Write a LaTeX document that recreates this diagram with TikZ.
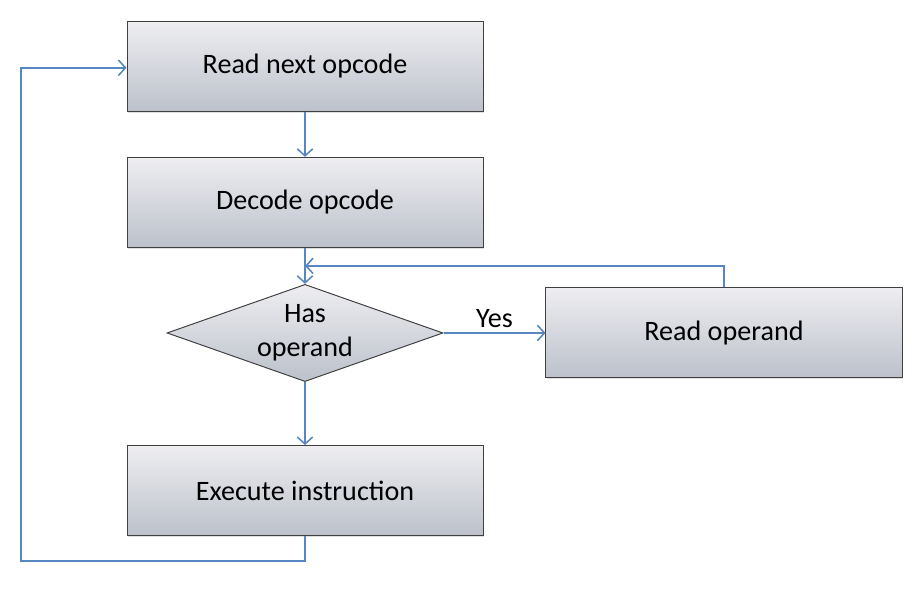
\documentclass[tikz,border=0pt]{standalone}
\usepackage{fontspec}
\setmainfont{Carlito}
\usetikzlibrary{positioning,shapes.geometric,arrows.meta,calc,shadows}

\definecolor{flowblue}{RGB}{88,134,194}
\definecolor{boxtop}{RGB}{238,238,241}
\definecolor{boxbottom}{RGB}{188,193,203}

\begin{document}
\begin{tikzpicture}[
    font=\fontsize{20}{24}\selectfont,
    stepbox/.style={draw=black!75, line width=0.7pt, top color=boxtop, bottom color=boxbottom,
      minimum width=8.9cm, minimum height=2.25cm, drop shadow={shadow xshift=0.6pt, shadow yshift=-1pt, opacity=0.25}},
    decision/.style={diamond, draw=black!75, line width=0.7pt, top color=boxtop, bottom color=boxbottom,
      minimum width=6.9cm, minimum height=2.43cm, inner sep=0pt},
    flow/.style={draw=flowblue, line width=1.1pt, -{Straight Barb[length=5pt,width=11pt]}}
  ]
    \useasboundingbox (0,0) rectangle (23,-14.725);
    \node[stepbox] (read) at (7.625,-1.66) {Read next opcode};
    \node[stepbox, below=1.125cm of read] (decode) {Decode opcode};
    \node[decision, below=0.9cm of decode, label={[align=center]center:Has\\operand}] (has) {};
    \node[stepbox, right=2.55cm of has] (operand) {Read operand};
    \node[stepbox, below=1.575cm of has] (exec) {Execute instruction};
    \coordinate (join) at ($(decode.south)!0.5!(has.north)$);
    \coordinate (loopcorner) at (0.525,-14.025);
    \draw[flow] (read) -- (decode);
    \draw[flow] (decode) -- (has);
    \draw[flow] (has) -- (operand) node[midway, above] {Yes};
    \draw[flow] (operand.north) |- (join);
    \draw[flow] (has) -- (exec);
    \draw[flow] (exec.south) |- (loopcorner) |- ([yshift=-1pt]read.west);
  \end{tikzpicture}
\end{document}
